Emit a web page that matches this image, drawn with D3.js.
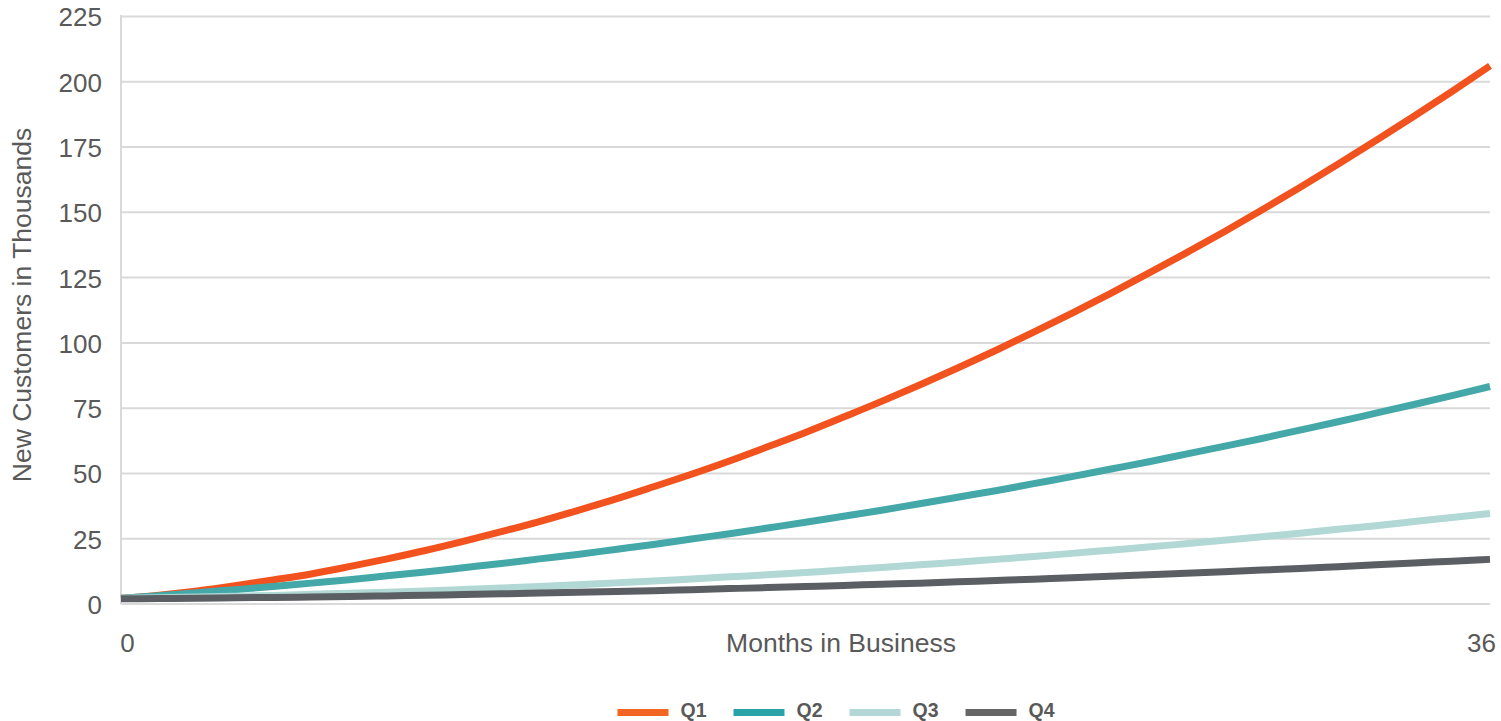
<!DOCTYPE html>
<html>
<head>
<meta charset="utf-8">
<script src="https://cdn.jsdelivr.net/npm/d3@7"></script>
<style>
  html, body { margin: 0; padding: 0; background: #ffffff; }
  svg { display: block; font-family: "Liberation Sans", Arial, sans-serif; }
</style>
</head>
<body>
<svg id="chart" width="1501" height="721"></svg>
<script>
// Months 0..36
const months = d3.range(0, 37);

// New customers (thousands) per month, by quarter cohort
const q1 = [2.0, 3.2, 4.8, 6.8, 9.0, 11.3, 14.1, 17.1, 20.3, 23.8, 27.5, 31.4, 35.6, 40.0, 44.7, 49.5, 54.6, 60.0, 65.5, 71.4, 77.4, 83.7, 90.2, 96.9, 103.9, 111.1, 118.6, 126.3, 134.2, 142.3, 150.7, 159.3, 168.2, 177.3, 186.6, 196.1, 205.9];
const q2 = [2.0, 3.0, 4.1, 5.3, 6.5, 7.8, 9.1, 10.6, 12.1, 13.7, 15.3, 17.1, 18.8, 20.7, 22.6, 24.7, 26.7, 28.9, 31.1, 33.4, 35.7, 38.2, 40.7, 43.2, 45.9, 48.6, 51.4, 54.2, 57.2, 60.2, 63.2, 66.4, 69.6, 72.9, 76.2, 79.6, 83.1];
const q3 = [2.0, 2.2, 2.5, 2.8, 3.1, 3.5, 3.9, 4.3, 4.8, 5.4, 5.9, 6.5, 7.2, 7.9, 8.6, 9.4, 10.2, 11.0, 11.9, 12.8, 13.8, 14.8, 15.8, 16.9, 18.0, 19.2, 20.4, 21.6, 22.9, 24.2, 25.6, 26.9, 28.4, 29.8, 31.4, 32.9, 34.5];
const q4 = [1.8, 1.9, 2.0, 2.2, 2.3, 2.5, 2.7, 2.9, 3.2, 3.4, 3.7, 4.0, 4.3, 4.6, 4.9, 5.3, 5.7, 6.1, 6.5, 6.9, 7.4, 7.8, 8.3, 8.8, 9.3, 9.9, 10.4, 11.0, 11.6, 12.2, 12.8, 13.4, 14.1, 14.8, 15.5, 16.2, 16.9];

const seriesNames = ["Q1", "Q2", "Q3", "Q4"];
const seriesValues = [q1, q2, q3, q4];
const lineColors = ["#F2521E", "#45A8A8", "#B1D8D4", "#5B5F64"];
const legendColors = ["#F26522", "#2AA3A8", "#B3D6D6", "#666666"];

const yTicks = [0, 25, 50, 75, 100, 125, 150, 175, 200, 225];
const xTicks = [0, 36];

const xTitle = "Months in Business";
const yTitle = "New Customers in Thousands";

// Plot area
const plotLeft = 121, plotRight = 1490, plotTop = 16, plotBottom = 603.5;
const textColor = "#595959";
const gridColor = "#D9D9D9";
const tickFont = 26;
const titleFont = 26.5;

const svg = d3.select("#chart");

const x = d3.scaleLinear().domain([0, 36]).range([plotLeft, plotRight]);
const y = d3.scaleLinear().domain([0, 225]).range([plotBottom, plotTop]);

// Horizontal gridlines + y tick labels
const yAxis = svg.append("g")
  .attr("transform", `translate(${plotLeft},0)`)
  .call(d3.axisLeft(y).tickValues(yTicks).tickSize(-(plotRight - plotLeft)).tickPadding(19).tickFormat(d3.format("d")));
yAxis.select(".domain").remove();
yAxis.selectAll(".tick line").attr("stroke", gridColor).attr("stroke-width", 2);
yAxis.selectAll(".tick text")
  .attr("fill", textColor)
  .style("font-size", tickFont + "px")
  .style("font-family", '"Liberation Sans", Arial, sans-serif')
  .attr("dy", "0.38em");

// Vertical axis line on the left
svg.append("line")
  .attr("x1", plotLeft).attr("x2", plotLeft)
  .attr("y1", y(225) - 1).attr("y2", y(0) + 1)
  .attr("stroke", gridColor).attr("stroke-width", 2);

// X tick labels
const xAxis = svg.append("g")
  .attr("transform", `translate(0,${plotBottom})`)
  .call(d3.axisBottom(x).tickValues(xTicks).tickSize(0).tickPadding(30).tickFormat(d3.format("d")));
xAxis.select(".domain").remove();
xAxis.selectAll(".tick text")
  .attr("fill", textColor)
  .style("font-size", tickFont + "px")
  .style("font-family", '"Liberation Sans", Arial, sans-serif')
  .attr("dx", d => d === 0 ? 6 : -9);

// Axis titles
svg.append("text")
  .attr("x", 841).attr("y", 652)
  .attr("text-anchor", "middle")
  .attr("fill", textColor)
  .style("font-size", titleFont + "px")
  .text(xTitle);

svg.append("text")
  .attr("transform", "translate(31,305) rotate(-90)")
  .attr("text-anchor", "middle")
  .attr("fill", textColor)
  .style("font-size", titleFont + "px")
  .text(yTitle);

// Series lines
const line = d3.line()
  .x((d, i) => x(months[i]))
  .y(d => y(d))
  .curve(d3.curveMonotoneX);

svg.append("g")
  .selectAll("path")
  .data(seriesValues)
  .join("path")
  .attr("d", d => line(d))
  .attr("fill", "none")
  .attr("stroke", (d, i) => lineColors[i])
  .attr("stroke-width", 7)
  .attr("stroke-linecap", "butt")
  .attr("stroke-linejoin", "round");

// Legend, centred below the chart
const legend = svg.append("g");
const swatchW = 51, swatchGap = 12, itemGap = 27, legendBaseline = 717;
const items = legend.selectAll("g").data(seriesNames).join("g");
items.append("rect")
  .attr("width", swatchW).attr("height", 7)
  .attr("y", legendBaseline - 8)
  .attr("fill", (d, i) => legendColors[i]);
items.append("text")
  .attr("x", swatchW + swatchGap)
  .attr("y", legendBaseline)
  .attr("fill", textColor)
  .style("font-size", "19.5px")
  .style("font-weight", "bold")
  .text(d => d);

let offset = 0;
const widths = [];
items.each(function () {
  const w = swatchW + swatchGap + d3.select(this).select("text").node().getComputedTextLength();
  widths.push(w);
});
const total = d3.sum(widths) + itemGap * (widths.length - 1);
const startX = 836 - total / 2;
items.attr("transform", (d, i) => {
  const tx = startX + offset;
  offset += widths[i] + itemGap;
  return `translate(${tx},0)`;
});
</script>
</body>
</html>
